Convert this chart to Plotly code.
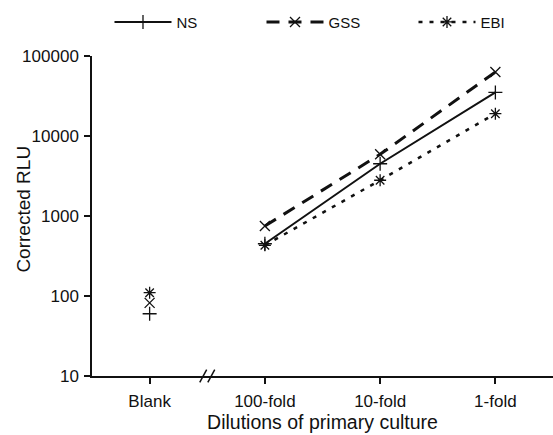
import plotly.graph_objects as go

# Dilution categories (Blank is separated from the series by an axis break)
categories = ["Blank", "100-fold", "10-fold", "1-fold"]

# Corrected RLU per method
ns_rlu = [60, 450, 4500, 35000]
gss_rlu = [82, 750, 5900, 63000]
ebi_rlu = [110, 430, 2800, 19000]

series_names = ["NS", "GSS", "EBI"]
series_values = [ns_rlu, gss_rlu, ebi_rlu]
series_symbols = ["cross-thin", "x-thin", "asterisk"]
series_dash = ["solid", "13px,9px", "4px,7px"]
series_width = [2, 3, 2.5]

ytick_vals = [10, 100, 1000, 10000, 100000]
ytick_text = ["10", "100", "1000", "10000", "100000"]

FONT = "Liberation Sans, Arial, sans-serif"
INK = "#111111"

fig = go.Figure()
for name, vals, sym, dash, lw in zip(series_names, series_values,
                                     series_symbols, series_dash, series_width):
    marker = dict(symbol=sym, size=10, color=INK, line=dict(color=INK, width=1.3))
    # dilution series, joined by a line
    fig.add_trace(go.Scatter(
        x=categories[1:], y=vals[1:], name=name, mode="lines+markers",
        line=dict(color=INK, width=lw, dash=dash), marker=marker,
    ))
    # blank reading, shown on its own
    fig.add_trace(go.Scatter(
        x=categories[:1], y=vals[:1], name=name, mode="markers",
        marker=marker, showlegend=False,
    ))

# axis break marks between Blank and 100-fold
brk_center = 0.5
for off in (-0.035, 0.035):
    fig.add_shape(type="line", xref="x", yref="paper",
                  x0=brk_center + off - 0.03, x1=brk_center + off + 0.03,
                  y0=-0.02, y1=0.02, line=dict(color=INK, width=1.5))

# y-axis title
fig.add_annotation(text="Corrected RLU", xref="paper", yref="paper",
                   x=0, y=0.52, xshift=-68, xanchor="center", yanchor="middle",
                   textangle=-90, showarrow=False,
                   font=dict(size=19, color=INK, family=FONT))

fig.update_layout(
    width=553, height=435,
    margin=dict(l=92, r=0, t=56, b=59),
    paper_bgcolor="white", plot_bgcolor="white",
    font=dict(family=FONT, size=16, color=INK),
    showlegend=True,
    legend=dict(orientation="h", xref="container", x=0.198, xanchor="left",
                yref="container", y=0.949, yanchor="middle",
                itemwidth=57, entrywidth=80, entrywidthmode="pixels",
                font=dict(size=15, color=INK), bgcolor="rgba(0,0,0,0)",
                tracegroupgap=0),
    xaxis=dict(
        type="category", categoryorder="array", categoryarray=categories,
        range=[-0.5, 3.5], showgrid=False, zeroline=False,
        showline=True, linecolor=INK, linewidth=1.5,
        ticks="outside", ticklen=6, tickwidth=1.5, tickcolor=INK,
        tickfont=dict(size=17, color=INK), ticklabelstandoff=3,
        title=dict(text="Dilutions of primary culture", font=dict(size=19.5, color=INK),
                   standoff=5),
    ),
    yaxis=dict(
        type="log", range=[1, 5], showgrid=False, zeroline=False,
        showline=True, linecolor=INK, linewidth=1.5,
        tickvals=ytick_vals, ticktext=ytick_text,
        ticks="outside", ticklen=6, tickwidth=1.5, tickcolor=INK,
        tickfont=dict(size=17, color=INK), ticklabelstandoff=2,
    ),
)

fig.write_html("out.html")
